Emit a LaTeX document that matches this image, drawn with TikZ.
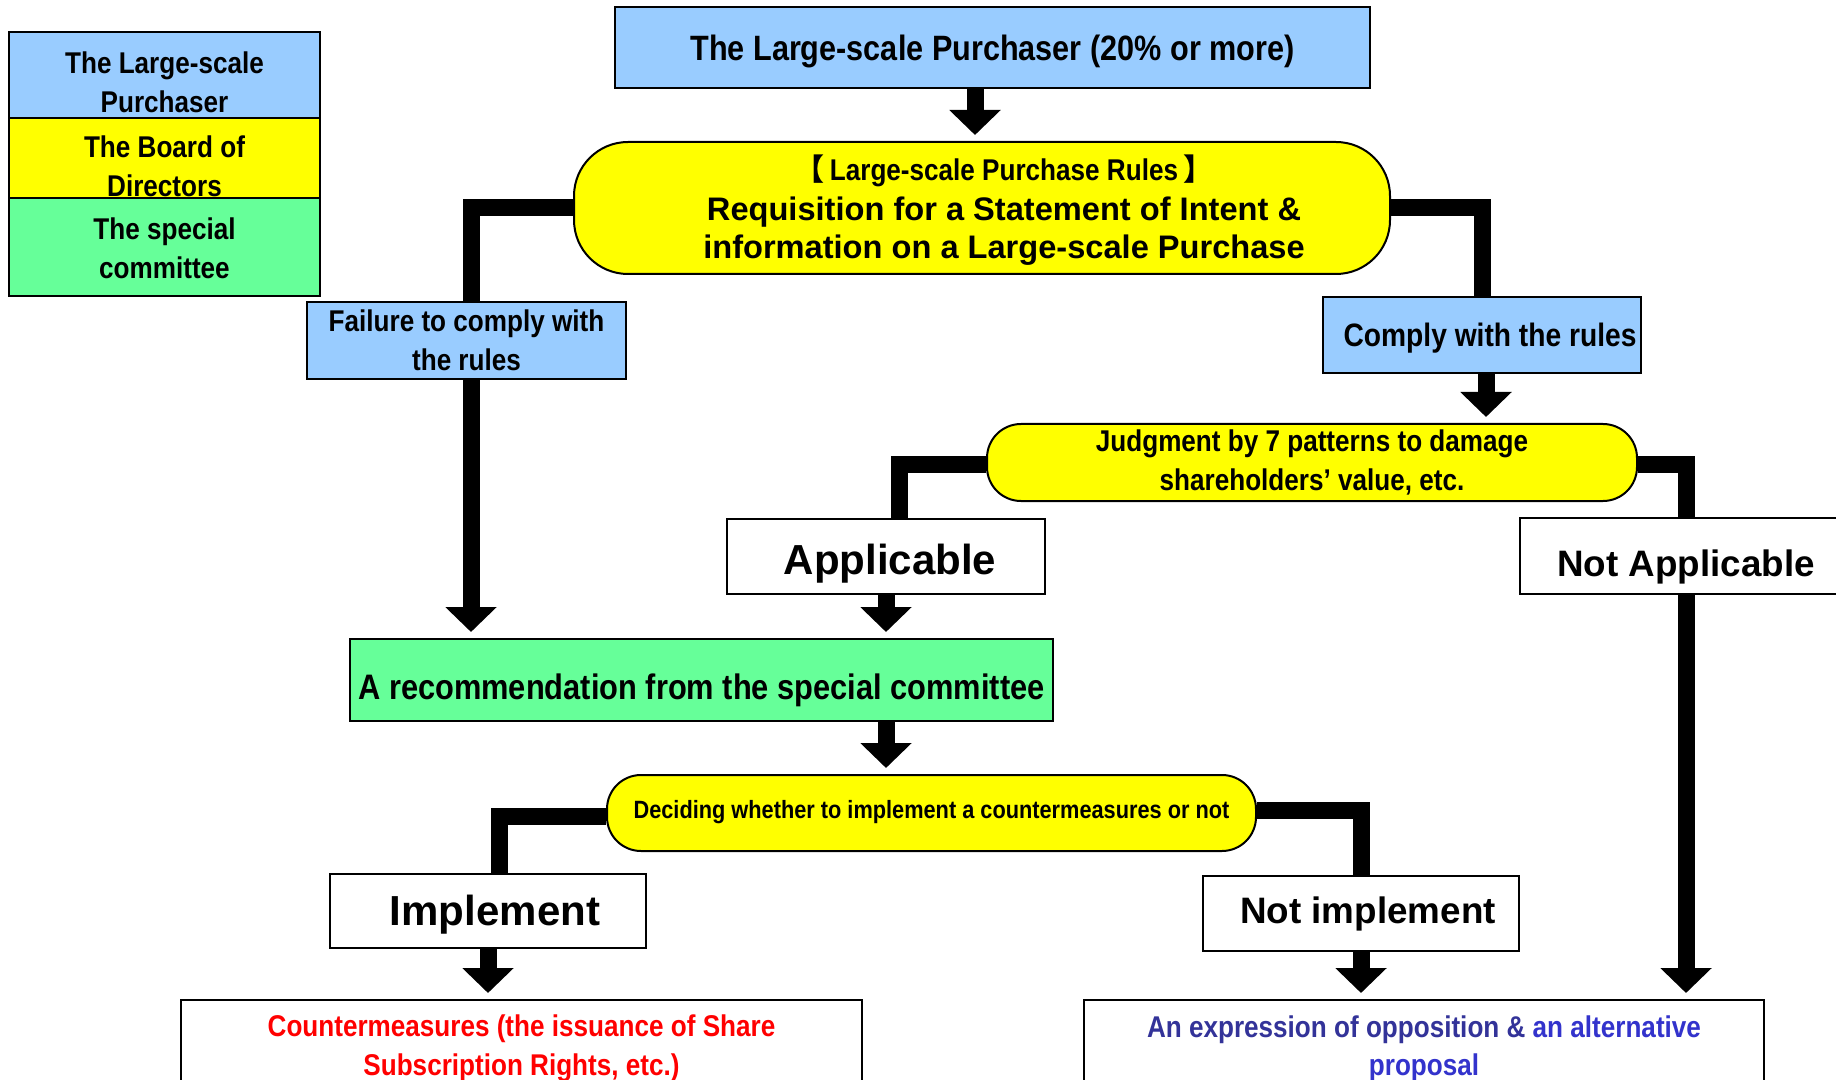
\documentclass[tikz,border=0pt]{standalone}
\usepackage{fontspec}
\setmainfont{Liberation Sans}
\newfontfamily\nar{Liberation Sans}[FakeStretch=0.87]
\newfontfamily\cjk{Noto Sans CJK JP}
\usetikzlibrary{arrows.meta,calc,backgrounds}
\definecolor{bfill}{RGB}{153,204,255}
\definecolor{yfill}{RGB}{255,255,0}
\definecolor{gfill}{RGB}{102,255,153}
\definecolor{tblueA}{RGB}{51,51,153}
\definecolor{tblueB}{RGB}{51,51,204}
\newcommand{\fsz}[2]{\fontsize{#1}{#2}\selectfont}
\tikzset{
  box/.style={draw=black, line width=1pt, align=center, inner sep=0pt},
  bluebox/.style={box, fill=bfill},
  yelbox/.style={box, fill=yfill},
  grnbox/.style={box, fill=gfill},
  whtbox/.style={box, fill=white},
  txt/.style={align=center, inner sep=0pt},
  base/.style={text height=#1, text depth=0pt},
  narfont/.style={font=\nar\bfseries\fsz{#1}{19.3pt}},
  bigfont/.style={font=\bfseries\fsz{#1}{19.3pt}},
  conn/.style={line width=8.5pt, line join=miter},
  arr/.style={line width=8.5pt, -{Triangle[width=25pt,length=12.5pt]}, shorten >=3pt},
}
\begin{document}
\begin{tikzpicture}[x=0.5pt, y=-0.5pt]
\path[use as bounding box, clip] (0,0) rectangle (1836,1080);

% legend
\node[bluebox, minimum width=155.5pt, minimum height=43pt] (leg1) at (164.5,75) {};
\node[yelbox, minimum width=155.5pt, minimum height=40pt] (leg2) at (164.5,158) {};
\node[grnbox, minimum width=155.5pt, minimum height=49pt] (leg3) at (164.5,247) {};
\node[txt, narfont=15pt] (lt1) at (164.5,82) {The Large-scale\\Purchaser};
\node[txt, narfont=15pt] (lt2) at (164.5,166.5) {The Board of\\Directors};
\node[txt, narfont=15pt] (lt3) at (164.5,248.5) {The special\\committee};

% main boxes
\node[bluebox, narfont=17.6pt, base=12.7pt, minimum width=377.5pt, minimum height=40.5pt] (top) at (992.5,47.5)
  {The Large-scale Purchaser (20\% or more)};

\node[yelbox, rounded corners=27pt, minimum width=408pt, minimum height=66pt] (rules) at (982,208) {};
\node[txt, bigfont=16.3pt] (rulest) at (1004,210)
  {{\nar\fsz{15pt}{19pt}{\cjk 【}\,Large-scale Purchase Rules\,{\cjk 】}}\\[0.9pt]
   Requisition for a Statement of Intent \&\\[-0.3pt]
   information on a Large-scale Purchase};

\node[bluebox, narfont=15pt, minimum width=159.5pt, minimum height=38.5pt] (fail) at (466.5,340.5)
  {Failure to comply with\\the rules};

\node[bluebox, minimum width=159pt, minimum height=38pt] (comply) at (1482,335) {};
\node[txt, narfont=16.2pt, base=12pt] (complyt) at (1490,335) {Comply with the rules};

\node[yelbox, rounded corners=17pt, narfont=15pt, minimum width=325pt, minimum height=38.5pt] (judge) at (1312,462.5)
  {Judgment by 7 patterns to damage\\shareholders’ value, etc.};

\node[whtbox, minimum width=159pt, minimum height=37.5pt] (appl) at (886,556.5) {};
\node[txt, bigfont=21pt, base=17.9pt] (applt) at (890,556.5) {Applicable};

\node[whtbox, bigfont=18.4pt, base=20pt, minimum width=166pt, minimum height=38pt] (notappl) at (1686,556)
  {Not Applicable};

\node[grnbox, narfont=17.7pt, base=19.8pt, minimum width=351.5pt, minimum height=41pt] (rec) at (701.5,680)
  {A recommendation from the special committee};

\node[yelbox, rounded corners=17pt, narfont=12.5pt, base=5.3pt, minimum width=324.5pt, minimum height=38pt] (decide) at (931.5,813)
  {Deciding whether to implement a countermeasures or not};

\node[whtbox, minimum width=158pt, minimum height=37pt] (impl) at (488,911) {};
\node[txt, bigfont=21pt, base=14.5pt] (implt) at (495,911) {Implement};

\node[whtbox, minimum width=158pt, minimum height=37.5pt] (notimpl) at (1361,913.5) {};
\node[txt, bigfont=18.4pt, base=9.6pt] (notimplt) at (1368,913.5) {Not implement};

\node[whtbox, narfont=15pt, text=red, minimum width=340.5pt, minimum height=48.6pt] (counter) at (521.5,1048.6)
  {Countermeasures (the issuance of Share\\Subscription Rights, etc.)};
\node[whtbox, narfont=15pt, minimum width=340pt, minimum height=48.6pt] (expr) at (1424,1048.6)
  {{\color{tblueA}An expression of opposition \&} {\color{tblueB}an alternative}\\{\color{tblueB}proposal}};

\coordinate (c1) at (975,0);
\coordinate (c2) at (899,0);
\coordinate (c3) at (499,0);
\coordinate (c4) at (471,0);
\coordinate (c5) at (1486,0);

\begin{scope}[on background layer]
  \fill[white] (0,0) rectangle (1836,1080);
  \draw[conn] (rules.west) -| (fail.north -| c4);
  \draw[conn] (rules.east) -| (comply.north);
  \draw[conn] ([yshift=-1.2pt]judge.west) -| (appl.north -| c2);
  \draw[conn] ([yshift=-1.2pt]judge.east) -| (notappl.north);
  \draw[conn] ([yshift=-1.5pt]decide.west) -| (impl.north -| c3);
  \draw[conn] ([yshift=1.5pt]decide.east) -| (notimpl.north);
\end{scope}

\draw[arr] (top.south -| c1) -- (rules.north -| c1);
\draw[arr] (comply.south -| c5) -- (judge.north -| c5);
\draw[arr] (fail.south -| c4) -- (rec.north -| c4);
\draw[arr] (appl.south) -- (rec.north -| appl.south);
\draw[arr] (rec.south -| appl.south) -- (decide.north -| appl.south);
\draw[arr] (impl.south) -- (counter.north -| impl.south);
\draw[arr] (notimpl.south) -- (expr.north -| notimpl.south);
\draw[arr] (notappl.south) -- (expr.north -| notappl.south);
\end{tikzpicture}
\end{document}
